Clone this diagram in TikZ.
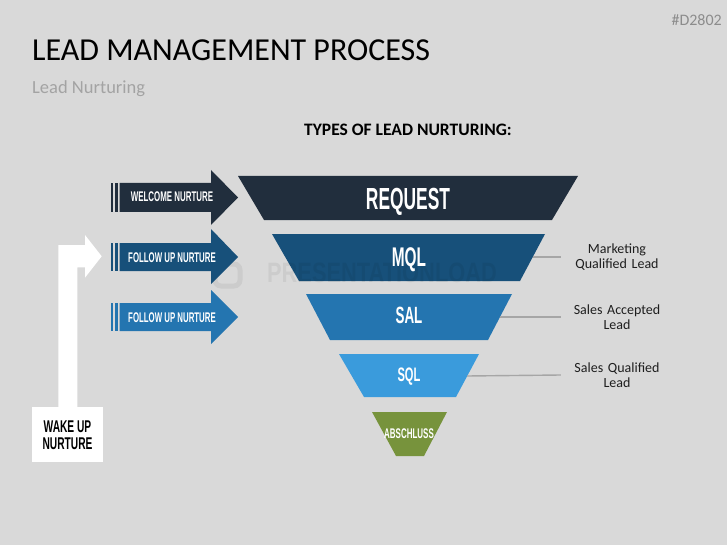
\documentclass[tikz,border=0pt]{standalone}
\usepackage{fontspec}
\usepackage{graphicx}
\setmainfont{Carlito}
\newfontfamily\condf{Liberation Sans}
\definecolor{bgc}{HTML}{D9D9D9}
\definecolor{creq}{HTML}{212E3D}
\definecolor{cmql}{HTML}{17507A}
\definecolor{csal}{HTML}{2475B0}
\definecolor{csql}{HTML}{3A9BDC}
\definecolor{cabs}{HTML}{77933C}
\definecolor{lgray}{HTML}{A6A6A6}
\definecolor{subg}{HTML}{A3A3A3}
\definecolor{idg}{HTML}{8C8C8C}
\definecolor{lbltxt}{HTML}{1E1E1E}
\newcommand\cnd[2]{\scalebox{#1}[1]{\condf\bfseries #2}}
\begin{document}
\begin{tikzpicture}[x=1pt,y=-1pt,
  ctext/.style={text=white,inner sep=0pt,anchor=base},
  lbl/.style={text=lbltxt,font=\fontsize{14}{15}\selectfont,align=center,text width=112pt,inner sep=0pt},
  conn/.style={draw=lgray,line width=1.4pt},
  wm/.style={text=black,opacity=0.06,inner sep=0pt,anchor=base}]
\useasboundingbox (0,0) rectangle (727,545);
\fill[bgc] (0,0) rectangle (727,545);

% header
\node[text=idg,anchor=base east,inner sep=0pt,font=\fontsize{16}{18}\selectfont] (id) at (722,26) {\#D2802};
\node[text=black,anchor=base west,inner sep=0pt,font=\fontsize{32}{36}\selectfont] (title) at (32,61) {LEAD MANAGEMENT PROCESS};
\node[text=subg,anchor=base west,inner sep=0pt,font=\fontsize{18.5}{20}\selectfont] (sub) at (32,94) {Lead Nurturing};
\node[text=black,anchor=base,inner sep=0pt,font=\fontsize{17.5}{20}\selectfont\bfseries] (types) at (408,136) {TYPES OF LEAD NURTURING:};

% funnel
\fill[creq] (238,176) -- (578,176) -- (552,220) -- (264,220) -- cycle;
\fill[cmql] (272,234) -- (545,234) -- (520,281) -- (299,281) -- cycle;
\fill[csal] (306,294) -- (512,294) -- (488,340) -- (330,340) -- cycle;
\fill[csql] (339,354) -- (479,354) -- (456,397) -- (364,397) -- cycle;
\fill[cabs] (372,412) -- (447,412) -- (424,456) -- (396,456) -- cycle;

% watermark (behind the texts)
\draw[black,opacity=0.06,line width=5pt,rounded corners=6pt] (215,264) rectangle (240,286);
\node[wm,font=\fontsize{28}{30}\selectfont] (wmark) at (382,282) {\scalebox{0.78}[1]{\condf\bfseries PRESENTATIONLOAD}};

\node[ctext,font=\fontsize{30.5}{32}\selectfont] (req) at (408,210) {\cnd{0.57}{REQUEST}};
\node[ctext,font=\fontsize{27}{28}\selectfont] (mql) at (409,266) {\cnd{0.57}{MQL}};
\node[ctext,font=\fontsize{23.5}{25}\selectfont] (sal) at (409,323) {\cnd{0.57}{SAL}};
\node[ctext,font=\fontsize{19.5}{21}\selectfont] (sql) at (409,381) {\cnd{0.57}{SQL}};
\node[ctext,font=\fontsize{14}{15}\selectfont] (abs) at (409,438) {\cnd{0.57}{ABSCHLUSS}};

% right labels
\coordinate (mqlE) at (533,257);
\coordinate (salE) at (500,317);
\coordinate (sqlE) at (467,376);
\node[lbl] (lm) at (617,257) {Marketing\\Qualified Lead};
\node[lbl] (ls) at (617,317) {Sales Accepted\\Lead};
\node[lbl] (lq) at (617,375) {Sales Qualified\\Lead};
\draw[conn] (mqlE) -- (lm.west);
\draw[conn] (salE) -- (ls.west);
\draw[conn] (sqlE) -- (lq.west);

% left arrows
\fill[creq] (111,183) rectangle (113.3,212);
\fill[creq] (115.3,183) rectangle (117.6,212);
\fill[creq] (119.6,183) -- (211,183) -- (211,170) -- (238,197.5) -- (211,225) -- (211,212) -- (119.6,212) -- cycle;
\node[ctext,font=\fontsize{14}{15}\selectfont] (welc) at (172,202) {\cnd{0.565}{WELCOME NURTURE}};

\fill[cmql] (111,243) rectangle (113.3,271);
\fill[cmql] (115.3,243) rectangle (117.6,271);
\fill[cmql] (119.6,243) -- (211,243) -- (211,229) -- (238,257) -- (211,284) -- (211,271) -- (119.6,271) -- cycle;
\node[ctext,font=\fontsize{14}{15}\selectfont] (fol1) at (172,262) {\cnd{0.56}{FOLLOW UP NURTURE}};

\fill[csal] (111,303) rectangle (113.3,331);
\fill[csal] (115.3,303) rectangle (117.6,331);
\fill[csal] (119.6,303) -- (211,303) -- (211,290) -- (238,317) -- (211,344) -- (211,331) -- (119.6,331) -- cycle;
\node[ctext,font=\fontsize{14}{15}\selectfont] (fol2) at (172,322) {\cnd{0.56}{FOLLOW UP NURTURE}};

% wake up arrow
\fill[white] (58.3,408) -- (58.3,245) -- (85,245) -- (85,235) -- (101.7,256.3) -- (85,277.7) -- (85,267.3) -- (77.3,267.3) -- (77.3,408) -- cycle;
\fill[white] (32,407) rectangle (103,462);
\node[text=black,align=center,inner sep=0pt,font=\fontsize{17}{17}\selectfont] (wake) at (67.5,435) {\cnd{0.6}{WAKE UP}\\[-0.5pt]\cnd{0.6}{NURTURE}};
\end{tikzpicture}
\end{document}
